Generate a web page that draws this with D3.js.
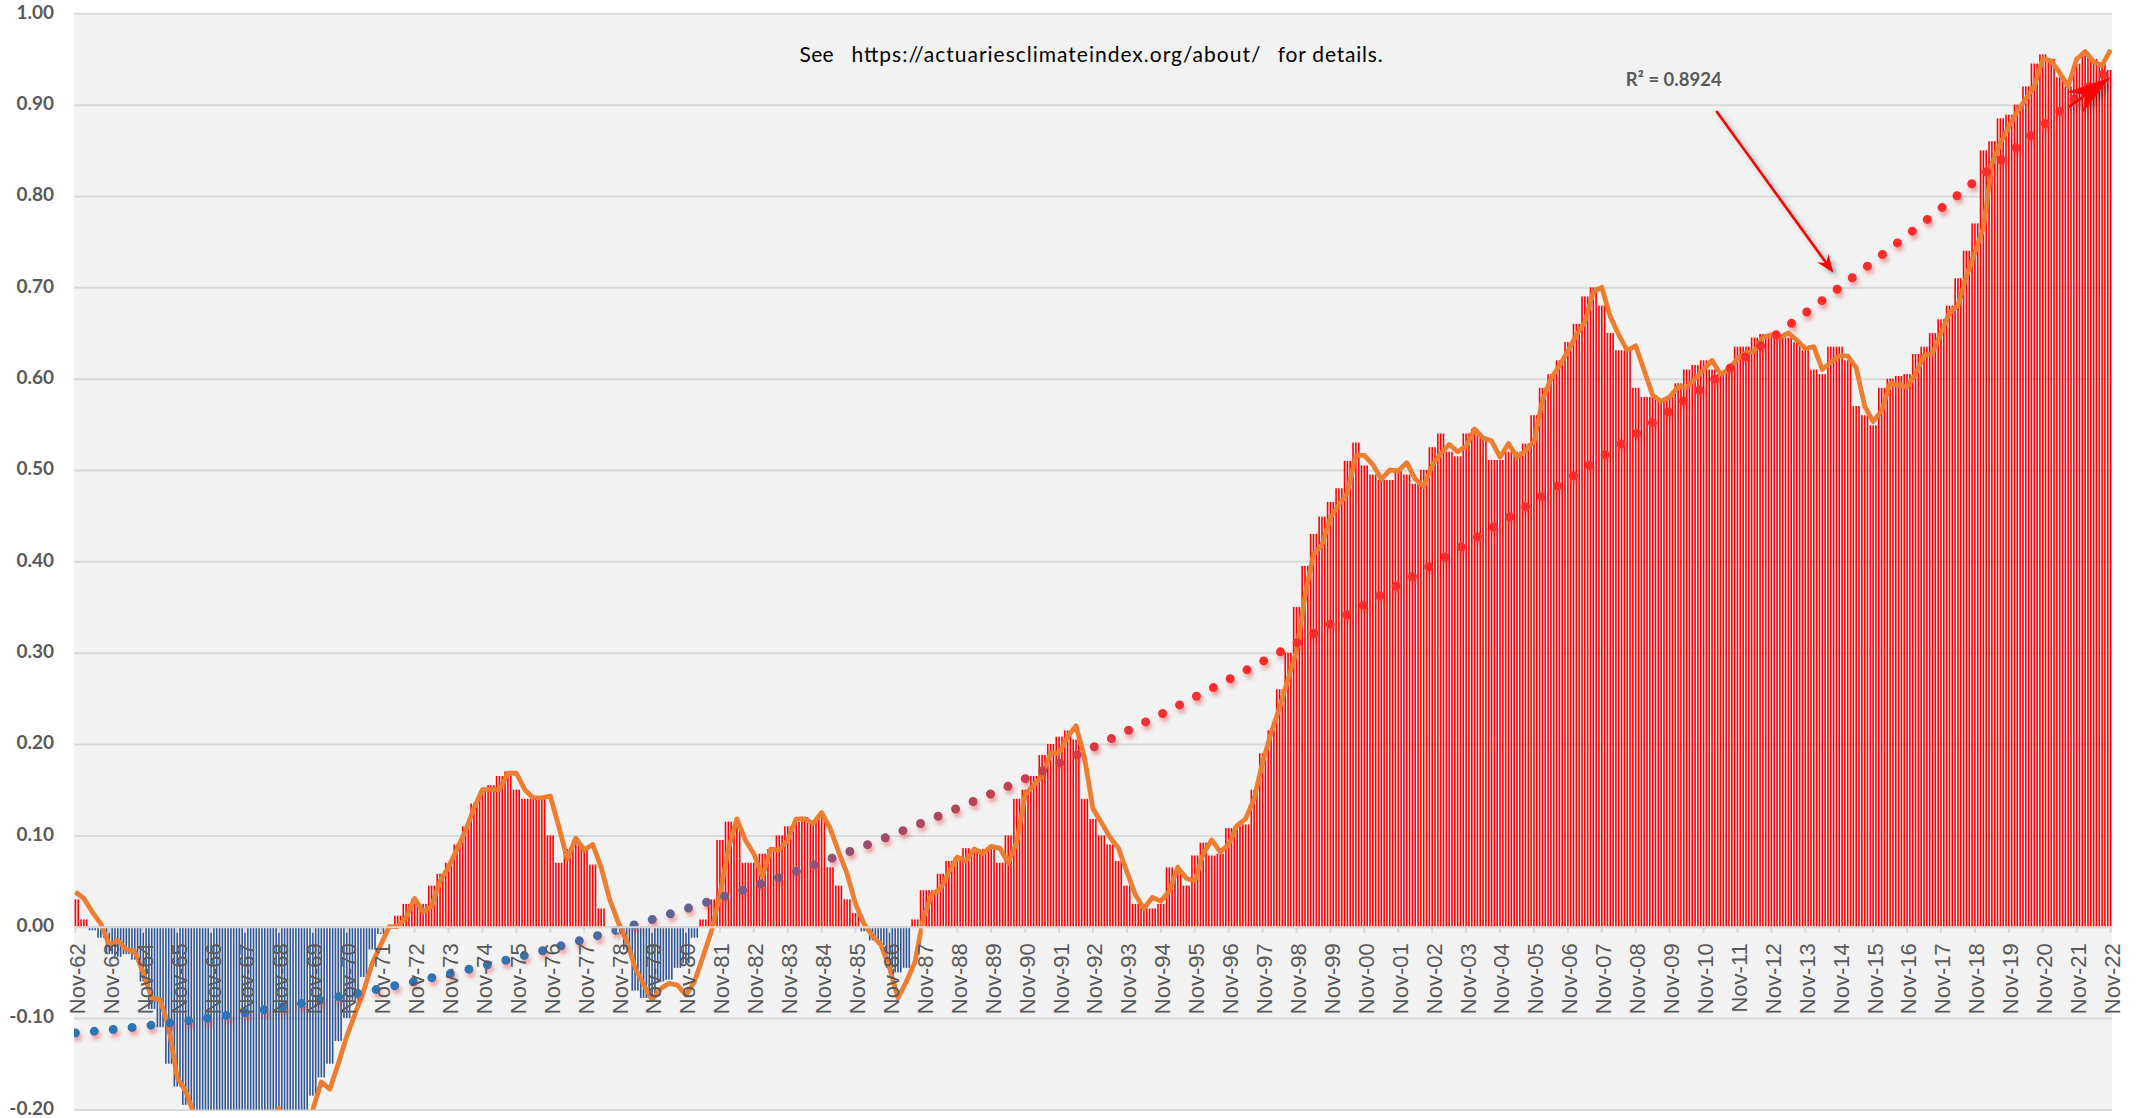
<!DOCTYPE html>
<html>
<head>
<meta charset="utf-8">
<script src="https://cdn.jsdelivr.net/npm/d3@7"></script>
<style>
  body { margin: 0; background: #fff; }
  svg { display: block; }
</style>
</head>
<body>
<div id="chart"></div>
<script>
// quarterly readings (Nov, Feb, May, Aug), Nov-62 .. Nov-22
const aciBars = [
  0.030, 0.008, -0.004, -0.012, -0.030, -0.033, -0.030, -0.036, -0.060, -0.090,
  -0.110, -0.150, -0.175, -0.195, -0.220, -0.230, -0.240, -0.250, -0.260, -0.260,
  -0.250, -0.250, -0.240, -0.240, -0.230, -0.230, -0.220, -0.210, -0.185, -0.165,
  -0.150, -0.125, -0.100, -0.080, -0.055, -0.025, -0.008, 0.000, 0.012, 0.025,
  0.030, 0.025, 0.045, 0.058, 0.070, 0.090, 0.110, 0.135, 0.148, 0.155,
  0.165, 0.170, 0.150, 0.140, 0.140, 0.140, 0.100, 0.070, 0.085, 0.095,
  0.088, 0.068, 0.020, 0.000, -0.008, -0.025, -0.070, -0.078, -0.075, -0.060,
  -0.058, -0.045, -0.040, -0.012, 0.008, 0.030, 0.095, 0.115, 0.110, 0.070,
  0.070, 0.080, 0.085, 0.100, 0.110, 0.115, 0.120, 0.115, 0.120, 0.065,
  0.045, 0.030, 0.015, -0.005, -0.015, -0.020, -0.045, -0.050, -0.045, 0.008,
  0.040, 0.040, 0.058, 0.072, 0.076, 0.086, 0.085, 0.085, 0.085, 0.070,
  0.100, 0.140, 0.150, 0.165, 0.188, 0.200, 0.208, 0.215, 0.205, 0.140,
  0.118, 0.100, 0.090, 0.072, 0.045, 0.025, 0.020, 0.020, 0.025, 0.065,
  0.060, 0.045, 0.078, 0.092, 0.078, 0.080, 0.108, 0.110, 0.112, 0.150,
  0.190, 0.215, 0.260, 0.300, 0.350, 0.395, 0.430, 0.449, 0.465, 0.480,
  0.510, 0.530, 0.505, 0.495, 0.489, 0.489, 0.500, 0.495, 0.485, 0.500,
  0.525, 0.540, 0.520, 0.515, 0.540, 0.545, 0.535, 0.511, 0.511, 0.520,
  0.520, 0.529, 0.560, 0.590, 0.605, 0.620, 0.640, 0.660, 0.690, 0.700,
  0.680, 0.650, 0.631, 0.631, 0.590, 0.580, 0.580, 0.575, 0.580, 0.595,
  0.610, 0.615, 0.620, 0.610, 0.605, 0.610, 0.635, 0.635, 0.645, 0.649,
  0.649, 0.645, 0.645, 0.640, 0.631, 0.610, 0.605, 0.635, 0.635, 0.620,
  0.570, 0.560, 0.549, 0.590, 0.600, 0.603, 0.605, 0.627, 0.635, 0.650,
  0.665, 0.680, 0.710, 0.740, 0.770, 0.850, 0.860, 0.885, 0.889, 0.900,
  0.920, 0.945, 0.955, 0.950, 0.930, 0.920, 0.945, 0.958, 0.950, 0.945,
  0.938
];

const aciLine = [
  0.038, 0.031, 0.016, 0.003, -0.020, -0.015, -0.025, -0.027, -0.050, -0.078,
  -0.080, -0.110, -0.165, -0.180, -0.205, -0.230, -0.250, -0.260, -0.260, -0.250,
  -0.240, -0.230, -0.220, -0.210, -0.199, -0.210, -0.220, -0.215, -0.200, -0.170,
  -0.178, -0.150, -0.120, -0.095, -0.070, -0.040, -0.020, 0.000, 0.000, 0.010,
  0.031, 0.016, 0.022, 0.050, 0.065, 0.085, 0.105, 0.130, 0.150, 0.150,
  0.150, 0.168, 0.168, 0.150, 0.141, 0.141, 0.143, 0.110, 0.074, 0.097,
  0.084, 0.090, 0.065, 0.030, 0.005, -0.015, -0.045, -0.063, -0.080, -0.068,
  -0.062, -0.064, -0.075, -0.060, -0.033, -0.005, 0.035, 0.085, 0.118, 0.095,
  0.080, 0.055, 0.085, 0.084, 0.095, 0.118, 0.118, 0.113, 0.125, 0.108,
  0.082, 0.058, 0.025, 0.003, -0.010, -0.020, -0.045, -0.078, -0.060, -0.039,
  0.010, 0.036, 0.041, 0.060, 0.076, 0.072, 0.085, 0.080, 0.088, 0.086,
  0.070, 0.092, 0.145, 0.155, 0.165, 0.190, 0.190, 0.208, 0.220, 0.185,
  0.129, 0.114, 0.098, 0.086, 0.060, 0.035, 0.020, 0.032, 0.028, 0.039,
  0.065, 0.053, 0.050, 0.080, 0.095, 0.082, 0.090, 0.111, 0.118, 0.140,
  0.180, 0.212, 0.240, 0.271, 0.302, 0.362, 0.408, 0.418, 0.448, 0.462,
  0.475, 0.516, 0.516, 0.506, 0.490, 0.500, 0.499, 0.508, 0.490, 0.482,
  0.505, 0.518, 0.528, 0.520, 0.526, 0.545, 0.535, 0.532, 0.514, 0.529,
  0.514, 0.521, 0.531, 0.576, 0.600, 0.614, 0.630, 0.648, 0.662, 0.695,
  0.700, 0.668, 0.648, 0.631, 0.636, 0.609, 0.582, 0.575, 0.580, 0.591,
  0.591, 0.600, 0.610, 0.620, 0.605, 0.610, 0.622, 0.628, 0.630, 0.645,
  0.648, 0.645, 0.650, 0.642, 0.633, 0.635, 0.610, 0.618, 0.625, 0.625,
  0.612, 0.570, 0.553, 0.565, 0.595, 0.593, 0.591, 0.605, 0.625, 0.628,
  0.650, 0.672, 0.680, 0.712, 0.738, 0.765, 0.835, 0.858, 0.876, 0.893,
  0.906, 0.920, 0.950, 0.948, 0.935, 0.920, 0.950, 0.958, 0.947, 0.943,
  0.960
];

const yTickValues = [-0.2, -0.1, 0, 0.1, 0.2, 0.3, 0.4, 0.5, 0.6, 0.7, 0.8, 0.9, 1.0];
const firstMonth = new Date(1962, 10, 1);
const monthCount = 721;
const labelEvery = 12;
const r2Text = "R² = 0.8924";
const noteParts = ["See", "https://actuariesclimateindex.org/about/", "for details."];

// annotation arrows, in [month index, value]
const arrows = [
  { from: [580.5, 0.893], to: [621.9, 0.716], head: 18, half: 7, notch: 6, width: 2.6 },
  { from: [705.0, 0.897], to: [719.9, 0.930], head: 44, half: 13, notch: 14, width: 2.6 }
];

const layout = {
  width: 2136,
  height: 1118,
  margin: { top: 13.3, right: 24, bottom: 8.6, left: 74 }
};
const innerW = layout.width - layout.margin.left - layout.margin.right;
const x0 = layout.margin.left, x1 = layout.width - layout.margin.right;
const yTop = layout.margin.top, yBot = layout.height - layout.margin.bottom;

const months = d3.range(monthCount).map(i => d3.timeMonth.offset(firstMonth, i));
const fmtMonth = d3.timeFormat("%b-%y");
const monthly = months.map((d, i) => ({ i: i, date: d, v: aciBars[Math.round(i / 3)] }));
const linePts = aciLine.map((v, q) => ({ i: q * 3, v: v }));

const xScale = d3.scaleBand().domain(d3.range(monthCount)).range([x0, x1]).padding(0);
const bw = xScale.bandwidth();
const xc = i => xScale(i) + bw / 2;
const yScale = d3.scaleLinear().domain([-0.2, 1.0]).range([yBot, yTop]);

// quadratic least-squares trend of the monthly bars
function polyFit(pts) {
  const S = [[0,0,0],[0,0,0],[0,0,0]], B = [0,0,0];
  pts.forEach(p => {
    const s = p.i / 720, pw = [1, s, s * s];
    for (let r = 0; r < 3; r++) {
      B[r] += pw[r] * p.v;
      for (let c = 0; c < 3; c++) S[r][c] += pw[r] * pw[c];
    }
  });
  const M = S.map((row, r) => row.concat([B[r]]));
  for (let k = 0; k < 3; k++) {
    for (let r = k + 1; r < 3; r++) {
      const f = M[r][k] / M[k][k];
      for (let c = k; c < 4; c++) M[r][c] -= f * M[k][c];
    }
  }
  const coef = [0,0,0];
  for (let r = 2; r >= 0; r--) {
    let sum = M[r][3];
    for (let c = r + 1; c < 3; c++) sum -= M[r][c] * coef[c];
    coef[r] = sum / M[r][r];
  }
  return i => { const s = i / 720; return coef[0] + coef[1] * s + coef[2] * s * s; };
}
const trend = polyFit(monthly);

const locale = d3.formatLocale({ decimal: ".", thousands: ",", grouping: [3], currency: ["", ""], minus: "-" });
const yFormat = locale.format(".2f");

const svg = d3.select("#chart").append("svg")
  .attr("width", layout.width)
  .attr("height", layout.height)
  .attr("viewBox", `0 0 ${layout.width} ${layout.height}`);

const defs = svg.append("defs");
defs.append("clipPath").attr("id", "plotClip")
  .append("rect").attr("x", x0).attr("y", yTop).attr("width", innerW).attr("height", yBot - yTop);

const grad = defs.append("linearGradient").attr("id", "trendGrad")
  .attr("gradientUnits", "userSpaceOnUse")
  .attr("x1", x0).attr("x2", x1).attr("y1", 0).attr("y2", 0);
grad.append("stop").attr("offset", 0).attr("stop-color", "#2E75B6");
grad.append("stop").attr("offset", 0.2).attr("stop-color", "#2E75B6");
grad.append("stop").attr("offset", 0.56).attr("stop-color", "#FF2B2B");
grad.append("stop").attr("offset", 1).attr("stop-color", "#FF2B2B");

const tShadow = defs.append("filter").attr("id", "trendShadow")
  .attr("x", "-5%").attr("y", "-10%").attr("width", "110%").attr("height", "125%");
tShadow.append("feGaussianBlur").attr("in", "SourceAlpha").attr("stdDeviation", 2.2).attr("result", "blur");
tShadow.append("feOffset").attr("in", "blur").attr("dx", 2).attr("dy", 4).attr("result", "off");
tShadow.append("feFlood").attr("flood-color", "#e23a3a").attr("flood-opacity", 0.45);
tShadow.append("feComposite").attr("in2", "off").attr("operator", "in").attr("result", "sh");
const tm = tShadow.append("feMerge");
tm.append("feMergeNode").attr("in", "sh");
tm.append("feMergeNode").attr("in", "SourceGraphic");

const aShadow = defs.append("filter").attr("id", "arrowShadow")
  .attr("x", "-30%").attr("y", "-30%").attr("width", "160%").attr("height", "160%");
aShadow.append("feGaussianBlur").attr("in", "SourceAlpha").attr("stdDeviation", 2.5).attr("result", "blur");
aShadow.append("feOffset").attr("in", "blur").attr("dx", 4).attr("dy", 4).attr("result", "off");
aShadow.append("feFlood").attr("flood-color", "#000").attr("flood-opacity", 0.3);
aShadow.append("feComposite").attr("in2", "off").attr("operator", "in").attr("result", "sh");
const am = aShadow.append("feMerge");
am.append("feMergeNode").attr("in", "sh");
am.append("feMergeNode").attr("in", "SourceGraphic");

// plot background
svg.append("rect")
  .attr("x", x0).attr("y", yTop)
  .attr("width", innerW).attr("height", yBot - yTop)
  .attr("fill", "#F2F2F2");

// y gridlines + labels
const yAxis = d3.axisLeft(yScale).tickValues(yTickValues).tickFormat(yFormat)
  .tickSize(-innerW).tickPadding(20);
svg.append("g")
  .attr("transform", `translate(${x0},0)`)
  .call(yAxis)
  .call(g => {
    g.select(".domain").remove();
    g.selectAll(".tick line").attr("stroke", "#D9D9D9").attr("stroke-width", 2);
    g.selectAll(".tick text")
      .attr("fill", "#595959")
      .attr("font-family", "Lato, 'Open Sans', sans-serif")
      .attr("font-weight", "bold")
      .attr("font-size", 19)
      .attr("dy", "0.25em");
  });

// bars
const plot = svg.append("g").attr("clip-path", "url(#plotClip)");
const barW = 1.6;
plot.append("g").selectAll("rect")
  .data(monthly)
  .join("rect")
  .attr("x", d => xc(d.i) - barW / 2)
  .attr("width", barW)
  .attr("y", d => yScale(Math.max(0, d.v)))
  .attr("height", d => Math.abs(yScale(d.v) - yScale(0)))
  .attr("fill", d => d.v >= 0 ? "#FF0000" : "#2F5597");

// x axis at zero
const labelTicks = d3.range(0, monthCount, labelEvery);
const xAxis = d3.axisBottom(xScale).tickValues(labelTicks)
  .tickFormat(i => fmtMonth(months[i])).tickSize(6).tickSizeOuter(0);
svg.append("g")
  .attr("transform", `translate(0,${yScale(0)})`)
  .call(xAxis)
  .call(g => {
    g.select(".domain").attr("stroke", "#D9D9D9").attr("stroke-width", 2);
    g.selectAll(".tick line").attr("stroke", "#D9D9D9").attr("stroke-width", 2);
    g.selectAll(".tick text")
      .attr("fill", "#595959")
      .attr("font-family", "'Liberation Sans', Arial, sans-serif")
      .attr("font-size", 22)
      .attr("text-anchor", "end")
      .attr("transform", "translate(1.5,16.5) rotate(-90)")
      .attr("x", 0).attr("y", 0).attr("dy", "0.36em");
  });

// orange series
const line = d3.line().x(d => xc(d.i)).y(d => yScale(d.v));
plot.append("path")
  .datum(linePts)
  .attr("d", line)
  .attr("fill", "none")
  .attr("stroke", "#ED7D31")
  .attr("stroke-width", 4.8)
  .attr("stroke-linejoin", "round");

// dotted trend
const trendLine = d3.line().x(i => xc(i)).y(i => yScale(trend(i)));
plot.append("path")
  .datum(d3.range(0, monthCount))
  .attr("d", trendLine)
  .attr("fill", "none")
  .attr("stroke", "url(#trendGrad)")
  .attr("stroke-width", 9)
  .attr("stroke-linecap", "round")
  .attr("stroke-dasharray", "0 19")
  .attr("filter", "url(#trendShadow)");

// arrows
arrows.forEach(a => {
  const ax = xc(0) + a.from[0] * bw, ay = yScale(a.from[1]);
  const bx = xc(0) + a.to[0] * bw, by = yScale(a.to[1]);
  const len = Math.hypot(bx - ax, by - ay);
  const ux = (bx - ax) / len, uy = (by - ay) / len, nx = -uy, ny = ux;
  const g = svg.append("g").attr("filter", "url(#arrowShadow)");
  const sx = bx - (a.head - a.notch) * ux, sy = by - (a.head - a.notch) * uy;
  g.append("line")
    .attr("x1", ax).attr("y1", ay).attr("x2", sx).attr("y2", sy)
    .attr("stroke", "#FF0000").attr("stroke-width", a.width);
  const pts = [
    [bx, by],
    [bx - a.head * ux + a.half * nx, by - a.head * uy + a.half * ny],
    [sx, sy],
    [bx - a.head * ux - a.half * nx, by - a.head * uy - a.half * ny]
  ];
  g.append("path").attr("d", "M" + pts.join("L") + "Z").attr("fill", "#FF0000");
});

// R squared label
svg.append("text")
  .attr("x", xc(0) + 548.5 * bw).attr("y", yScale(0.928))
  .attr("dy", "0.35em")
  .attr("fill", "#595959")
  .attr("font-family", "Lato, 'Open Sans', sans-serif")
  .attr("font-weight", "bold")
  .attr("font-size", 18.5)
  .text(r2Text);

// note at top
const noteX = [799.6, 851.4, 1277.7];
const noteW = [34, 409, 105];
svg.append("g").selectAll("text")
  .data(noteParts)
  .join("text")
  .attr("x", (d, i) => noteX[i])
  .attr("y", 54.5)
  .attr("dy", "0.35em")
  .attr("fill", "#000")
  .attr("font-family", "Lato, 'Open Sans', sans-serif")
  .attr("font-size", 21)
  .attr("textLength", (d, i) => noteW[i])
  .attr("lengthAdjust", "spacing")
  .text(d => d);
</script>
</body>
</html>
